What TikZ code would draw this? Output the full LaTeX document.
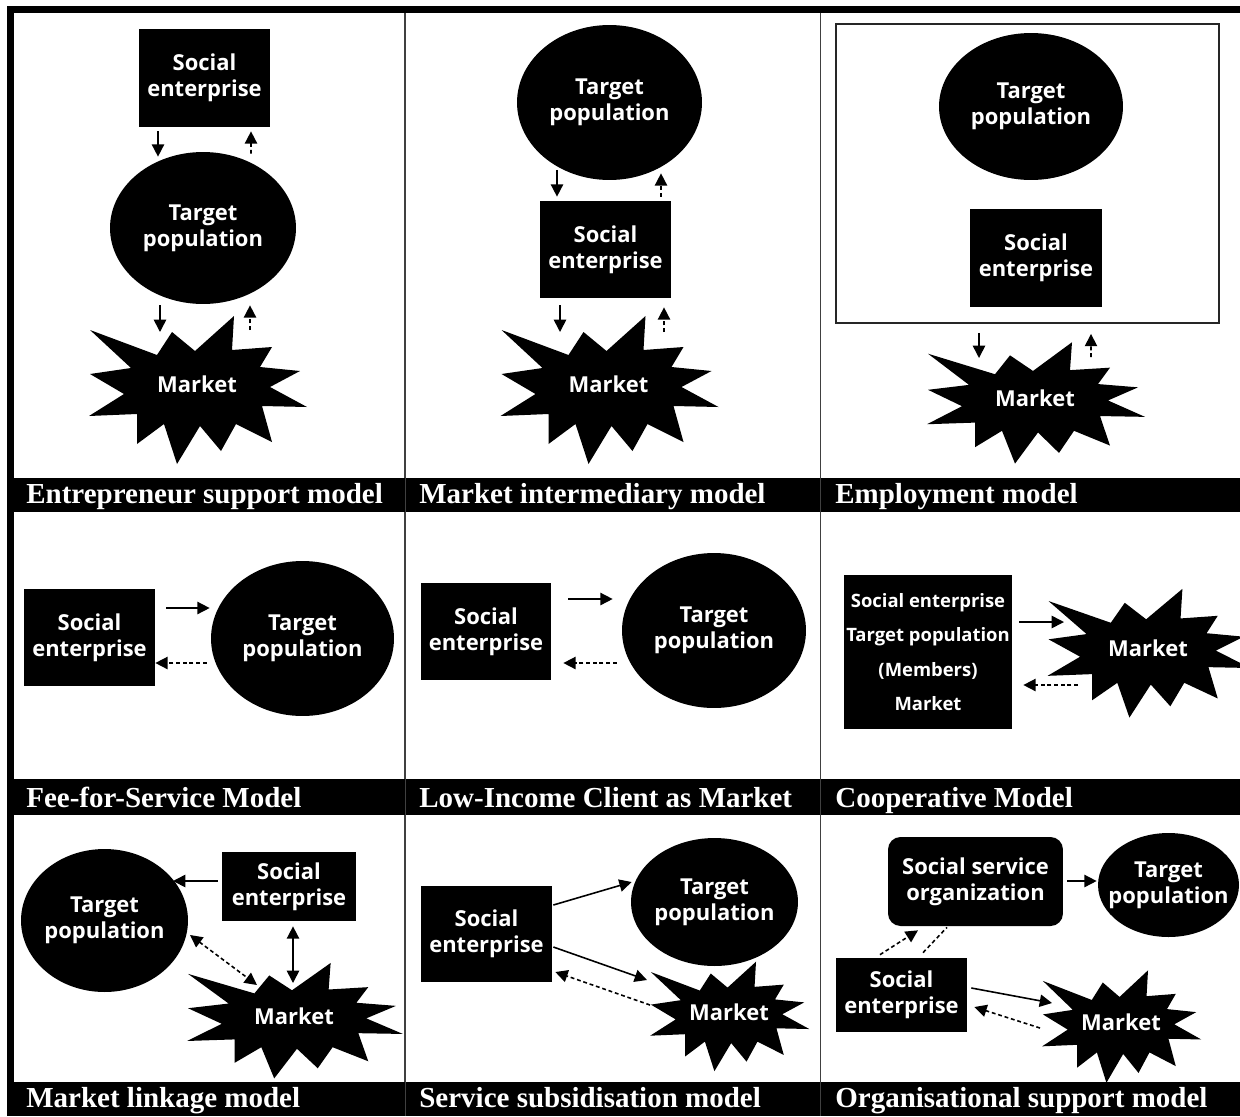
\documentclass[tikz,border=0pt]{standalone}
\usepackage{fontspec}
\usepackage{tikz}
\usetikzlibrary{shapes.geometric,arrows.meta,calc}
\newfontfamily\boxfont{Open Sans}
\newfontfamily\barfont{Liberation Serif}
\tikzstyle{sebox} = [rectangle, fill=black, text=white, inner sep=0pt, align=center, font=\boxfont\bfseries\fontsize{12.5pt}{14.6pt}\selectfont]
\tikzstyle{tpell} = [ellipse, fill=black, text=white, inner sep=0pt, inner xsep=-3pt, align=center, font=\boxfont\bfseries\fontsize{12.5pt}{14.6pt}\selectfont]
\tikzstyle{mlabel} = [text=white, inner sep=0pt, font=\boxfont\bfseries\fontsize{12.5pt}{14.6pt}\selectfont]
\tikzstyle{modeltitle} = [anchor=base west, text=white, inner sep=0pt, font=\barfont\bfseries\fontsize{16.5pt}{18pt}\selectfont]
\tikzstyle{solidarr} = [-{Triangle[length=7pt,width=7pt]}, line width=0.9pt]
\tikzstyle{dasharr} = [solidarr, dash pattern=on 2.2pt off 1.6pt]
\tikzstyle{dblarr} = [{Triangle[length=7pt,width=7pt]}-{Triangle[length=7pt,width=7pt]}, line width=0.9pt]
\tikzstyle{divider} = [draw=black!75, line width=0.8pt]
% starburst drawn behind a Market label: centre, xscale, yscale
\newcommand{\marketstar}[3]{%
  \fill[shift={#1}, xscale=#2, yscale=#3] (-107,-54) -- (-40,-29) -- (-25,-52) -- (-2,-33) -- (37,-68) -- (35,-34)
    -- (75,-37) -- (63,-17) -- (103,-13) -- (73,3) -- (110,23) -- (65,22) -- (75,58) -- (39,40)
    -- (24,67) -- (3,42) -- (-20,80) -- (-33,40) -- (-60,60) -- (-60,30) -- (-108,32) -- (-73,10)
    -- (-107,-10) -- (-66,-16) -- cycle;}

\begin{document}
\begin{tikzpicture}[x=0.02cm, y=-0.02cm]
\useasboundingbox (0,0) rectangle (1240,1116);

% frame and title bars
\draw[divider] (405,13) -- (405,1116);
\draw[divider] (820.5,13) -- (820.5,1116);
\fill (7,6) rectangle (1240,13);
\fill (7,6) rectangle (14,1116);
\fill (7,478) rectangle (1240,512);
\fill (7,779) rectangle (1240,815);
\fill (7,1082) rectangle (1240,1116);
\draw[black!75, line width=0.5pt] (405,478) -- (405,512) (405,779) -- (405,815) (405,1082) -- (405,1116);
\draw[black!75, line width=0.5pt] (820.5,478) -- (820.5,512) (820.5,779) -- (820.5,815) (820.5,1082) -- (820.5,1116);

\node[modeltitle] (t1) at (26,503) {Entrepreneur support model};
\node[modeltitle] (t2) at (419,503) {Market intermediary model};
\node[modeltitle] (t3) at (835,503) {Employment model};
\node[modeltitle] (t4) at (26,807) {Fee-for-Service Model};
\node[modeltitle] (t5) at (419,807) {Low-Income Client as Market};
\node[modeltitle] (t6) at (835,807) {Cooperative Model};
\node[modeltitle] (t7) at (26,1107) {Market linkage model};
\node[modeltitle] (t8) at (419,1107) {Service subsidisation model};
\node[modeltitle] (t9) at (835,1107) {Organisational support model};

% entrepreneur support
\node[sebox, minimum width=2.62cm, minimum height=1.96cm] (se1) at (204.5,78) {Social\\enterprise};
\node[tpell, minimum width=3.72cm, minimum height=3.04cm] (tp1) at (203,228) {Target\\population};
\marketstar{(197,384)}{1}{1}
\node[mlabel] (m1) at (197,384) {Market};
\draw[solidarr] ($(se1.south)+(-46.5,4)$) -- ($(tp1.north)+(-45,5)$);
\draw[dasharr] ($(tp1.north)+(48,2)$) -- ($(se1.south)+(46.5,4)$);
\draw[solidarr] ($(tp1.south)+(-43,1)$) -- ($(m1)+(-37,-52)$);
\draw[dasharr] ($(m1)+(53,-54)$) -- ($(tp1.south)+(47,1)$);

% market intermediary
\node[tpell, minimum width=3.7cm, minimum height=3.1cm] (tp2) at (609.5,102.5) {Target\\population};
\node[sebox, minimum width=2.62cm, minimum height=1.94cm] (se2) at (605.5,249.5) {Social\\enterprise};
\marketstar{(608.5,384)}{1}{1}
\node[mlabel] (m2) at (608.5,384) {Market};
\draw[solidarr] ($(tp2.south)+(-52.5,-10)$) -- ($(se2.north)+(-48.5,-4)$);
\draw[dasharr] ($(se2.north)+(55.5,-4)$) -- ($(tp2.south)+(51.5,-7)$);
\draw[solidarr] ($(se2.south)+(-45.5,7)$) -- ($(m2)+(-48.5,-52)$);
\draw[dasharr] ($(m2)+(55.5,-52)$) -- ($(se2.south)+(58.5,9)$);

% employment
\node[draw=black!85, line width=1.1pt, minimum width=7.66cm, minimum height=5.98cm, inner sep=0pt] (emp) at (1027.5,173.5) {};
\node[tpell, minimum width=3.68cm, minimum height=2.94cm] (tp3) at (1031,106.5) {Target\\population};
\node[sebox, minimum width=2.64cm, minimum height=1.96cm] (se3) at (1036,258) {Social\\enterprise};
\marketstar{(1035,398)}{1}{0.82}
\node[mlabel] (m3) at (1035,398) {Market};
\draw[solidarr] ($(emp.south)+(-48.5,9)$) -- ($(m3)+(-56,-40)$);
\draw[dasharr] ($(m3)+(56,-41)$) -- ($(emp.south)+(63.5,10)$);

% fee-for-service
\node[sebox, minimum width=2.62cm, minimum height=1.94cm] (se4) at (89.5,637.5) {Social\\enterprise};
\node[tpell, minimum width=3.66cm, minimum height=3.1cm] (tp4) at (302.5,638.5) {Target\\population};
\draw[solidarr] ($(se4.east)+(11,-29.5)$) -- ($(tp4.west)+(-1,-30.5)$);
\draw[dasharr] ($(tp4.west)+(-4,24.5)$) -- ($(se4.east)+(0,25.5)$);

% low-income client
\node[sebox, minimum width=2.6cm, minimum height=1.94cm] (se5) at (486,631.5) {Social\\enterprise};
\node[tpell, minimum width=3.68cm, minimum height=3.1cm] (tp5) at (714,630.5) {Target\\population};
\draw[solidarr] ($(se5.east)+(17,-32.5)$) -- ($(tp5.west)+(-9,-31.5)$);
\draw[dasharr] ($(tp5.west)+(-5,32.5)$) -- ($(se5.east)+(12,31.5)$);

% cooperative
\node[sebox, minimum width=3.36cm, minimum height=3.08cm, font=\boxfont\bfseries\fontsize{10.5pt}{19.5pt}\selectfont] (coop) at (928,652) {Social enterprise\\Target population\\(Members)\\Market};
\marketstar{(1148,648)}{0.93}{0.87}
\node[mlabel] (m6) at (1148,648) {Market};
\draw[solidarr] ($(coop.east)+(7,-30)$) -- ($(m6)+(-84,-26)$);
\draw[dasharr] ($(m6)+(-70,37)$) -- ($(coop.east)+(11,33)$);

% market linkage
\node[tpell, minimum width=3.34cm, minimum height=2.86cm] (tp7) at (104.5,920.5) {Target\\population};
\node[sebox, minimum width=2.68cm, minimum height=1.38cm] (se7) at (289,886.5) {Social\\enterprise};
\marketstar{(294,1016)}{0.99}{0.78}
\node[mlabel] (m7) at (294,1016) {Market};
\draw[solidarr] ($(se7.west)+(-4,-5.5)$) -- ($(tp7)+(68.5,-39.5)$);
\draw[dblarr] ($(se7.south)+(4,5)$) -- ($(m7)+(-1,-33)$);
\draw[dblarr, dash pattern=on 2.2pt off 1.6pt] ($(tp7)+(85.5,14.5)$) -- ($(m7)+(-37,-31)$);

% service subsidisation
\node[sebox, minimum width=2.62cm, minimum height=1.92cm] (se8) at (486.5,934) {Social\\enterprise};
\node[tpell, minimum width=3.34cm, minimum height=2.56cm] (tp8) at (714.5,902) {Target\\population};
\marketstar{(729,1012)}{0.73}{0.74}
\node[mlabel] (m8) at (729,1012) {Market};
\draw[solidarr] ($(se8.east)+(1,-29)$) -- ($(tp8.west)+(1,-20)$);
\draw[solidarr] ($(se8.east)+(1,13)$) -- ($(m8)+(-82,-32)$);
\draw[dasharr] ($(m8)+(-79,-7)$) -- ($(se8.east)+(3,38)$);

% organisational support
\node[sebox, rounded corners=0.25cm, minimum width=3.5cm, minimum height=1.78cm] (sso) at (975.5,881.5) {Social service\\organization};
\node[tpell, minimum width=2.82cm, minimum height=2.08cm, inner xsep=-0.25cm, inner ysep=-0.1cm] (tp9) at (1168.5,885) {Target\\population};
\node[sebox, minimum width=2.62cm, minimum height=1.48cm] (se9) at (901.5,995) {Social\\enterprise};
\marketstar{(1121,1022)}{0.73}{0.76}
\node[mlabel] (m9) at (1121,1022) {Market};
\draw[solidarr] ($(sso.east)+(4,-0.5)$) -- ($(tp9.west)+(-1,-4)$);
\draw[dasharr] ($(se9.north)+(-21.5,-3)$) -- ($(sso.south)+(-57.5,4)$);
\draw[line width=0.9pt, dash pattern=on 2.2pt off 1.6pt] ($(se9.north)+(21.5,-5)$) -- ($(sso.south)+(-28.5,1)$);
\draw[solidarr] ($(se9.east)+(4,-7)$) -- ($(m9)+(-69,-19)$);
\draw[dasharr] ($(m9)+(-81,6)$) -- ($(se9.east)+(7,12)$);
\end{tikzpicture}
\end{document}
